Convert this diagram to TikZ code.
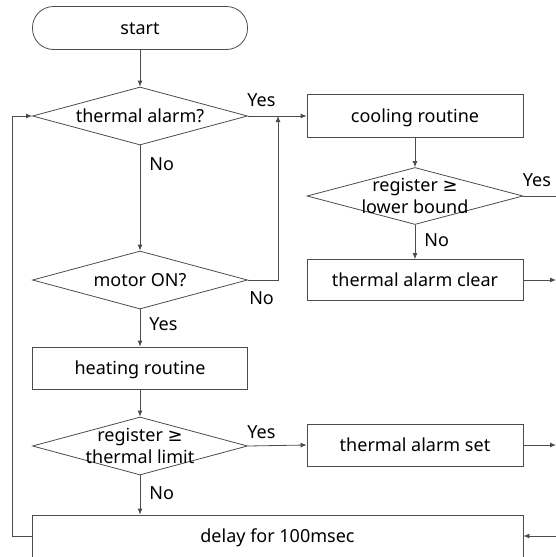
\documentclass[tikz,border=0pt]{standalone}
\usepackage{fontspec}
\setmainfont{Noto Sans}
\newfontfamily\symfont{DejaVu Sans}
\newcommand\gesign{{\symfont ≥}}
\usetikzlibrary{arrows.meta,shapes.geometric}

\begin{document}
\begin{tikzpicture}[
  x=1pt, y=-1pt,
  font=\fontsize{18}{22}\selectfont,
  line/.style={draw=black!70, line width=.8pt},
  box/.style={line, rectangle, minimum width=216pt, minimum height=42pt, inner sep=0pt, align=center, text height=14pt, text depth=2pt},
  term/.style={box, rounded corners=21pt, minimum width=215pt, minimum height=43pt},
  decision/.style={line, diamond, minimum width=215pt, minimum height=58pt, inner sep=0pt},
  flow/.style={line, -{Latex[length=6pt, width=5pt]}},
  tag/.style={inner sep=1pt, pos=0},
  yestag/.style={tag, anchor=south west, xshift=-2pt, yshift=8pt},
  notag/.style={tag, anchor=north west, xshift=8pt, yshift=-11pt}
]
\useasboundingbox (0,0) rectangle (556,557);
\node[term] (start) at (140,28) {start};
\node[decision, label={center:thermal alarm?}] (alarm) at (140,116) {};
\node[decision, label={center:motor ON?}] (motor) at (140,280) {};
\node[box, minimum width=215pt] (heat) at (140,368) {heating routine};
\node[decision, label={[align=center]center:register \gesign\\thermal limit}] (limit) at (140,446) {};
\node[box, minimum width=491pt] (delay) at (277.5,536) {delay for 100msec};
\node[box, minimum height=43pt] (cool) at (415,116) {cooling routine};
\node[decision, minimum width=216pt, minimum height=57pt, label={[align=center]center:register \gesign\\lower bound}] (lower) at (415,196) {};
\node[box, minimum height=41pt] (clear) at (415,280) {thermal alarm clear};
\node[box] (set) at (415,445) {thermal alarm set};
\coordinate (merge) at (278,116);
\coordinate (back) at (12,536);
\coordinate (yesout) at (556,196);
\coordinate (clearout) at (556,280);
\coordinate (setout) at (556,445);
\coordinate (delayin) at (556,536);

\draw[flow] (start) -- (alarm);
\draw[flow] (alarm.east) -- node[yestag] {Yes} (cool.west);
\draw[flow] (alarm.south) -- node[notag] {No} (motor.north);
\draw[flow] (motor.east) -| node[tag, anchor=north west, yshift=-10pt] {No} (merge);
\draw[flow] (motor.south) -- node[notag, yshift=4pt] {Yes} (heat.north);
\draw[flow] (heat.south) -- (limit.north);
\draw[flow] (limit.east) -- node[yestag, yshift=-2pt] {Yes} (set.west);
\draw[flow] (limit.south) -- node[notag, yshift=1pt] {No} (limit.south |- delay.north);
\draw[flow] (delay.west) -- (back) |- (alarm.west);
\draw[flow] (cool.south) -- (lower.north);
\draw[line] (lower.east) -- node[yestag] {Yes} (yesout);
\draw[flow] (lower.south) -- node[notag, yshift=4pt] {No} (clear.north);
\draw[flow] (clear.east) -- (clearout);
\draw[flow] (set.east) -- (setout);
\draw[flow] (delayin) -- (delay.east);
\end{tikzpicture}
\end{document}
